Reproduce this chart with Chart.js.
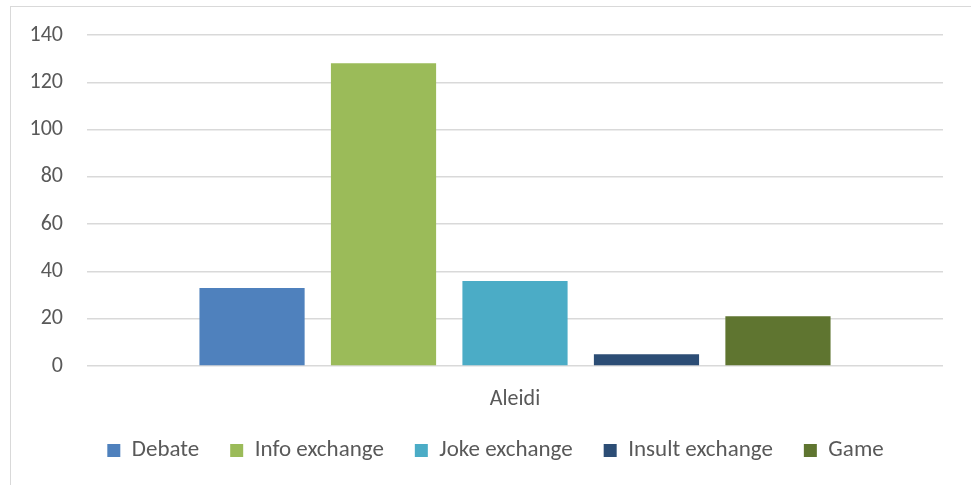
<!DOCTYPE html>
<html>
<head>
<meta charset="utf-8">
<script src="https://cdn.jsdelivr.net/npm/chart.js@4/dist/chart.umd.min.js"></script>
<style>
  html, body { margin: 0; padding: 0; background: #fff; }
  #wrap { position: relative; width: 971px; height: 485px; }
  #frame { position: absolute; left: 10px; top: 6px; right: 0; bottom: 0;
           border-left: 1px solid #d9d9d9; border-top: 1px solid #d9d9d9; }
  #chart { position: absolute; left: 0; top: 0; }
</style>
</head>
<body>
<div id="wrap">
  <div id="frame"></div>
  <canvas id="chart" width="971" height="485"></canvas>
</div>
<script>
// categories and series
const categories = ['Aleidi'];
const seriesNames = ['Debate', 'Info exchange', 'Joke exchange', 'Insult exchange', 'Game'];
const debate = [33];
const infoExchange = [128];
const jokeExchange = [36];
const insultExchange = [5];
const game = [21];
const yTicks = [0, 20, 40, 60, 80, 100, 120, 140];

const colors = ['#4f81bd', '#9bbb59', '#4bacc6', '#2c4d75', '#5f7530'];
const seriesValues = [debate, infoExchange, jokeExchange, insultExchange, game];

Chart.defaults.font.family = "Carlito, Calibri, Lato, 'Open Sans', sans-serif";
Chart.defaults.color = '#595959';

// legend items are spaced wider than the room below the axis allows,
// so fix its height and move it up / right to where the original sits
const legendTweak = {
    id: 'legendTweak',
    afterInit(chart) {
        const lg = chart.legend;
        const fit = lg.fit.bind(lg);
        lg.fit = function () { fit(); this.height = 58; };
    },
    afterLayout(chart) {
        const lg = chart.legend;
        lg.left += 24;
        lg.right += 24;
        lg.top -= 19;
        lg.bottom -= 19;
    }
};

const ctx = document.getElementById('chart').getContext('2d');
new Chart(ctx, {
    type: 'bar',
    data: {
        labels: categories,
        datasets: seriesNames.map((name, i) => ({
            label: name,
            data: seriesValues[i],
            backgroundColor: colors[i],
            borderWidth: 0,
            categoryPercentage: 0.768,
            barPercentage: 0.8
        }))
    },
    options: {
        responsive: false,
        animation: false,
        layout: { padding: { left: 0, right: 28, top: 35, bottom: 0 } },
        plugins: {
            legend: {
                position: 'bottom',
                labels: {
                    boxWidth: 13,
                    boxHeight: 13,
                    padding: 31,
                    font: { size: 23 },
                    color: '#595959'
                }
            },
            tooltip: { enabled: false }
        },
        scales: {
            x: {
                grid: { display: false },
                border: { display: false },
                ticks: { font: { size: 22 }, padding: 12, color: '#595959' },
                afterFit: scale => { scale.height = 61; }
            },
            y: {
                min: 0,
                max: 140,
                afterBuildTicks: scale => { scale.ticks = yTicks.map(v => ({ value: v })); },
                grid: { color: '#d9d9d9', lineWidth: 1.5, drawTicks: false },
                border: { display: false },
                ticks: { font: { size: 22 }, padding: 24, color: '#595959' },
                afterFit: scale => {
                    scale.width = 87;
                    scale.paddingTop = 0;
                    scale.paddingBottom = 0;
                }
            }
        }
    },
    plugins: [legendTweak]
});
</script>
</body>
</html>
